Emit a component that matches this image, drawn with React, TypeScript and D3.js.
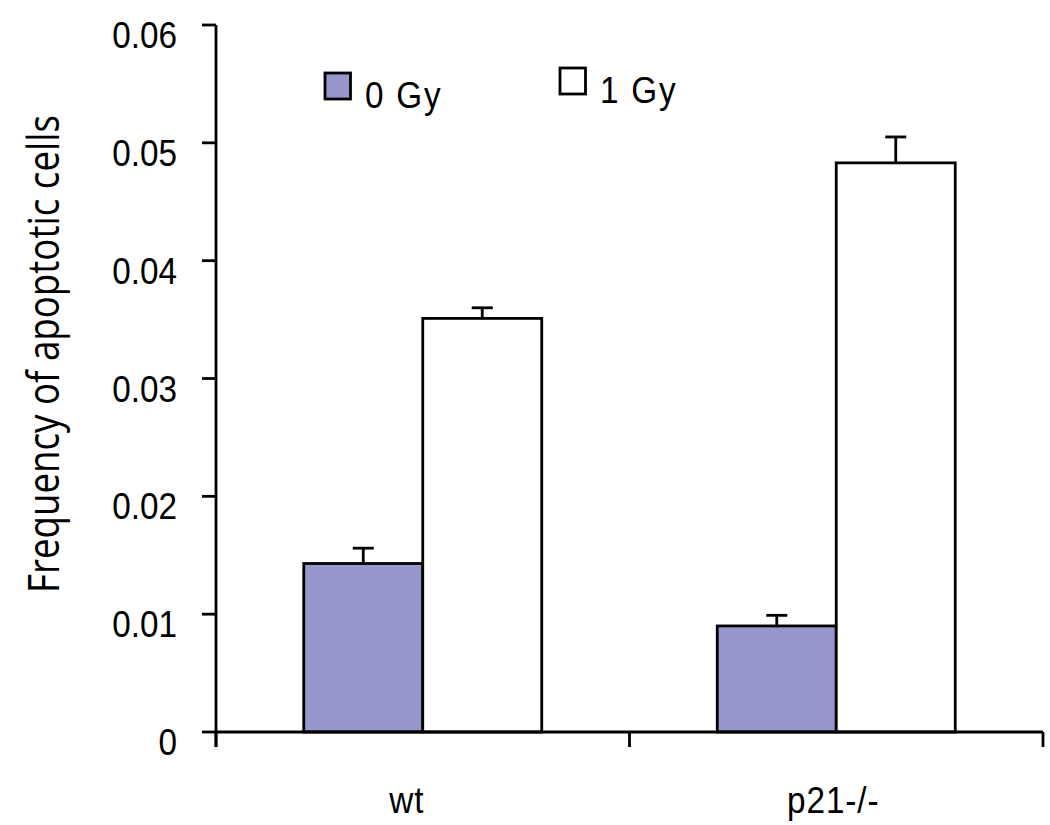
import React from "react";
import * as d3 from "d3";

const categories = ["wt", "p21-/-"];
const seriesNames = ["0 Gy", "1 Gy"];
const values0Gy = [0.0143, 0.0090];
const values1Gy = [0.0351, 0.0483];
const errors0Gy = [0.0013, 0.0009];
const errors1Gy = [0.0009, 0.0022];
const yTicks = [0, 0.01, 0.02, 0.03, 0.04, 0.05, 0.06];
const yTickLabels = ["0", "0.01", "0.02", "0.03", "0.04", "0.05", "0.06"];
const seriesColors = ["#9696CA", "#FFFFFF"];
const yTitle = "Frequency of apoptotic cells";

const W = 1050;
const H = 825;
const M = { left: 216, right: 7, top: 25, bottom: 93 };
const labelFont = "'Liberation Sans', Arial, Helvetica, sans-serif";
const SX = 0.9;

function Label(props: {
  x: number;
  y: number;
  anchor?: "start" | "middle" | "end";
  size?: number;
  spacing?: number;
  children: React.ReactNode;
}) {
  return (
    <text
      transform={`translate(${props.x},${props.y}) scale(${SX},1)`}
      textAnchor={props.anchor || "start"}
      fontFamily={labelFont}
      fontSize={props.size || 37}
      letterSpacing={props.spacing || 0}
      fill="#000"
    >
      {props.children}
    </text>
  );
}

export default function App() {
  const x0 = d3.scaleBand<string>().domain(categories).range([M.left, W - M.right]).padding(0);
  const x1 = d3
    .scaleBand<string>()
    .domain(seriesNames)
    .range([0, x0.bandwidth()])
    .paddingInner(0)
    .paddingOuter(0.7375);
  const y = d3.scaleLinear().domain([0, 0.06]).range([H - M.bottom, M.top]);

  const valuesBySeries = [values0Gy, values1Gy];
  const errorsBySeries = [errors0Gy, errors1Gy];
  const bars = categories.flatMap((c, ci) =>
    seriesNames.map((s, si) => ({
      c,
      s,
      si,
      v: valuesBySeries[si][ci],
      e: errorsBySeries[si][ci],
    }))
  );

  const y0 = y(0);
  const xEdges = [...categories.map((c) => x0(c) as number), W - M.right];
  const labelShift: Record<string, number> = { wt: -16, "p21-/-": -3 };
  const sw = 2.8;

  return (
    <svg
      width={W}
      height={H}
      style={{ position: "absolute", left: 0, top: 0, background: "#fff" }}
    >
      {/* bars */}
      {bars.map((b) => {
        const bx = (x0(b.c) as number) + (x1(b.s) as number);
        const bw = x1.bandwidth();
        const top = y(b.v);
        const cx = bx + bw / 2;
        const et = y(b.v + b.e);
        return (
          <g key={b.c + b.s}>
            <line x1={cx} x2={cx} y1={top} y2={et} stroke="#000" strokeWidth={sw} />
            <line x1={cx - 10.5} x2={cx + 10.5} y1={et} y2={et} stroke="#000" strokeWidth={sw} />
            <rect
              x={bx}
              y={top}
              width={bw}
              height={y0 - top}
              fill={seriesColors[b.si]}
              stroke="#000"
              strokeWidth={sw}
            />
          </g>
        );
      })}

      {/* y axis */}
      <line x1={M.left} x2={M.left} y1={y(0.06)} y2={y0 + 15} stroke="#000" strokeWidth={sw} />
      {yTicks.map((t, i) => (
        <g key={t}>
          <line x1={M.left - 14} x2={M.left} y1={y(t)} y2={y(t)} stroke="#000" strokeWidth={sw} />
          <Label x={177} y={y(t) + 23} anchor="end">
            {yTickLabels[i]}
          </Label>
        </g>
      ))}

      {/* x axis */}
      <line x1={M.left} x2={W - M.right} y1={y0} y2={y0} stroke="#000" strokeWidth={sw} />
      {xEdges.map((ex, i) => (
        <line key={i} x1={ex} x2={ex} y1={y0} y2={y0 + 15} stroke="#000" strokeWidth={sw} />
      ))}
      {categories.map((c) => (
        <Label
          key={c}
          x={(x0(c) as number) + x0.bandwidth() / 2 + labelShift[c]}
          y={813}
          anchor="middle"
          spacing={1}
        >
          {c}
        </Label>
      ))}

      {/* y title */}
      <text
        transform={`translate(59,354) rotate(-90)`}
        textAnchor="middle"
        fontFamily="'Open Sans', 'Noto Sans', sans-serif"
        fontSize={44}
        textLength={478}
        lengthAdjust="spacingAndGlyphs"
        fill="#000"
      >
        {yTitle}
      </text>

      {/* legend */}
      {seriesNames.map((s, i) => {
        const lx = [325, 560][i];
        const ly = [73, 68][i];
        return (
          <g key={s}>
            <rect
              x={lx}
              y={ly}
              width={25.5}
              height={26}
              fill={seriesColors[i]}
              stroke="#000"
              strokeWidth={sw}
            />
            <Label x={lx + 40} y={ly + 35} spacing={2}>
              {s}
            </Label>
          </g>
        );
      })}
    </svg>
  );
}
